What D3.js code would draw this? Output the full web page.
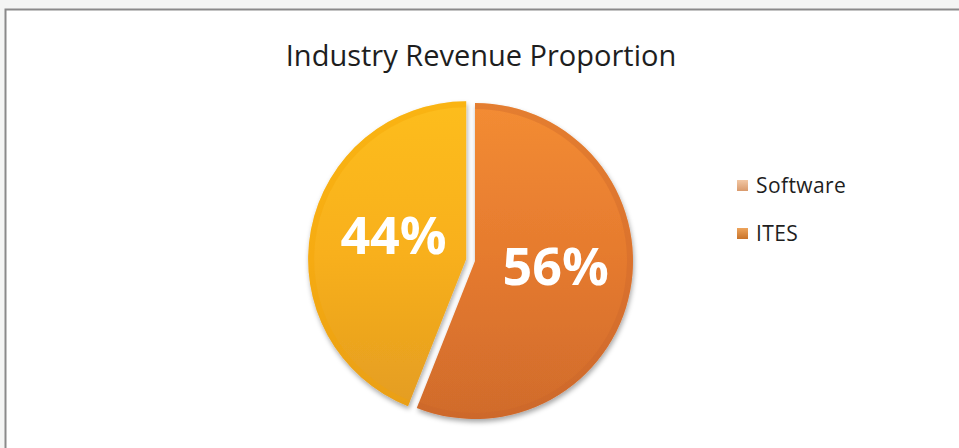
<!DOCTYPE html>
<html>
<head>
<meta charset="utf-8">
<script src="https://cdn.jsdelivr.net/npm/d3@7"></script>
<style>
  body { margin: 0; background: #f4f5f4; }
  svg { display: block; }
</style>
</head>
<body>
<div id="chart"></div>
<script>
// data
var categories = ["Software", "ITES"];
var values = [44, 56];
var labels = ["44%", "56%"];

var W = 959, H = 448;
var cx = 475, cy = 261, r = 158, explode = 9;

var svg = d3.select("#chart").append("svg")
    .attr("width", W)
    .attr("height", H);

var defs = svg.append("defs");

// gradients for the slices and legend keys
var grads = {
  Software: ["#fdbd1a", "#f8b01b", "#e49d22"],
  ITES: ["#f38c34", "#e57a2e", "#d06b2c"]
};
Object.keys(grads).forEach(function(k) {
  var g = defs.append("linearGradient")
      .attr("id", "g-" + k)
      .attr("x1", 0).attr("y1", 0).attr("x2", 0).attr("y2", 1);
  g.append("stop").attr("offset", "0%").attr("stop-color", grads[k][0]);
  g.append("stop").attr("offset", "50%").attr("stop-color", grads[k][1]);
  g.append("stop").attr("offset", "100%").attr("stop-color", grads[k][2]);
});

var lg = defs.append("linearGradient").attr("id", "lg-Software")
    .attr("x1", 0).attr("y1", 0).attr("x2", 0).attr("y2", 1);
lg.append("stop").attr("offset", "0%").attr("stop-color", "#f2c7a4");
lg.append("stop").attr("offset", "100%").attr("stop-color", "#d99a6c");
var lg2 = defs.append("linearGradient").attr("id", "lg-ITES")
    .attr("x1", 0).attr("y1", 0).attr("x2", 0).attr("y2", 1);
lg2.append("stop").attr("offset", "0%").attr("stop-color", "#eda45c");
lg2.append("stop").attr("offset", "100%").attr("stop-color", "#c8732a");

var shadow = defs.append("filter").attr("id", "shadow")
    .attr("x", "-20%").attr("y", "-20%").attr("width", "140%").attr("height", "140%");
shadow.append("feDropShadow")
    .attr("dx", 1).attr("dy", 3).attr("stdDeviation", 2.5)
    .attr("flood-color", "#000").attr("flood-opacity", 0.35);

// chart frame
svg.append("rect")
    .attr("x", 0).attr("y", 0).attr("width", W).attr("height", H)
    .attr("fill", "#f4f5f4");
svg.append("rect")
    .attr("x", 5.5).attr("y", 9.5).attr("width", W + 10).attr("height", H + 10)
    .attr("fill", "#ffffff")
    .attr("stroke", "#8a8a8a")
    .attr("stroke-width", 2);

svg.append("text")
    .attr("x", 481)
    .attr("y", 66)
    .attr("text-anchor", "middle")
    .style("font-family", "'Open Sans', sans-serif")
    .style("font-size", "29px")
    .style("fill", "#1e1e1e")
    .text("Industry Revenue Proportion");

// pie, ITES starts at twelve o'clock and runs clockwise
var data = categories.map(function(c, i) { return {name: c, value: values[i], label: labels[i]}; });
var pie = d3.pie().sort(null).value(function(d) { return d.value; });
var arcs = pie(data.slice().reverse());

var arc = d3.arc().innerRadius(0).outerRadius(r);
var rim = d3.arc().innerRadius(r - 6).outerRadius(r);
var labelArc = d3.arc().innerRadius(78).outerRadius(78);

var g = svg.append("g").attr("transform", "translate(" + cx + "," + cy + ")");

var slices = g.selectAll("g.slice")
    .data(arcs)
    .enter().append("g")
    .attr("class", "slice")
    .attr("transform", function(d) {
      if (d.data.name !== "Software") return null;
      var a = (d.startAngle + d.endAngle) / 2;
      return "translate(" + (Math.sin(a) * explode) + "," + (-Math.cos(a) * explode) + ")";
    });

slices.append("path")
    .attr("d", arc)
    .attr("fill", function(d) { return "url(#g-" + d.data.name + ")"; })
    .attr("filter", "url(#shadow)");

// slight bevel at the rim
slices.append("path")
    .attr("d", rim)
    .attr("fill", function(d) { return d.data.name === "Software" ? "#f4a400" : "#c9652a"; })
    .attr("opacity", 0.35);

slices.append("text")
    .attr("transform", function(d) {
      var c = labelArc.centroid(d);
      return "translate(" + (c[0] + 4) + "," + (c[1] - 9) + ")";
    })
    .attr("text-anchor", "middle")
    .attr("dy", "0.36em")
    .style("font-family", "'Open Sans', sans-serif")
    .style("font-weight", "bold")
    .style("font-size", "52px")
    .style("fill", "#ffffff")
    .text(function(d) { return d.data.label; });

// legend
var legend = svg.append("g").attr("transform", "translate(737,180)");
var items = legend.selectAll("g")
    .data(categories)
    .enter().append("g")
    .attr("transform", function(d, i) { return "translate(0," + (i * 48) + ")"; });

items.append("rect")
    .attr("width", 11).attr("height", 11)
    .attr("fill", function(d) { return "url(#lg-" + d + ")"; });

items.append("text")
    .attr("x", 19)
    .attr("y", 13)
    .style("font-family", "'Open Sans', sans-serif")
    .style("font-size", "21px")
    .style("letter-spacing", "0.4px")
    .style("fill", "#1e1e1e")
    .text(function(d) { return d; });
</script>
</body>
</html>
